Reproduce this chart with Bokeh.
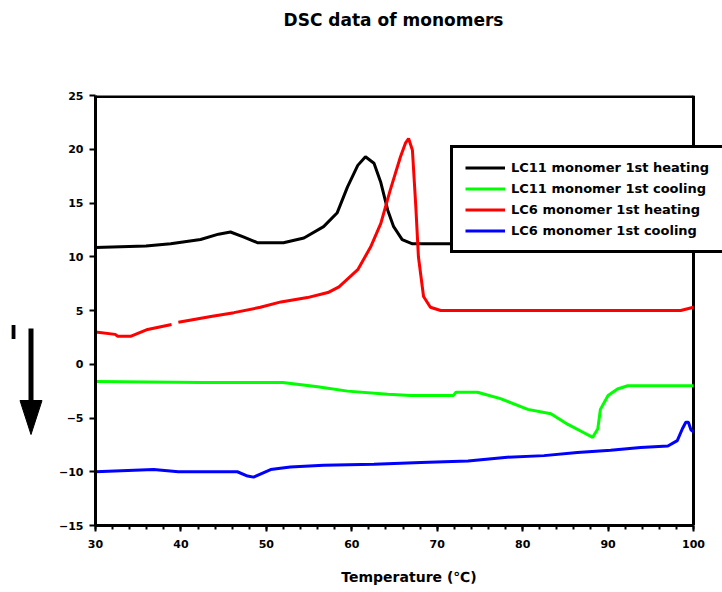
import math
from bokeh.plotting import figure
from bokeh.layouts import row, column
from bokeh.models import (Range1d, SingleIntervalTicker, Legend, LegendItem)
from bokeh.core.properties import value
from bokeh.embed import file_html
from bokeh.resources import INLINE

nan = float("nan")

title_text = "DSC data of monomers"
x_label = "Temperature (\u2103)"
side_mark = "I"
series_names = ["LC11 monomer 1st heating", "LC11 monomer 1st cooling",
                "LC6 monomer 1st heating", "LC6 monomer 1st cooling"]
series_colors = ["#000000", "#00FF00", "#FF0000", "#0000FF"]

lc11_heat_x = [30, 35.9, 38.8, 42.3, 44.4, 45.8, 47.3, 49.0, 52.0, 54.4, 56.7, 58.3, 59.5,
               60.7, 61.6, 62.6, 63.4, 64.2, 64.9, 65.9, 67.1, 100]
lc11_heat_y = [10.85, 11.0, 11.2, 11.6, 12.1, 12.3, 11.85, 11.3, 11.3, 11.75, 12.8, 14.1, 16.5,
               18.5, 19.3, 18.7, 16.9, 14.35, 12.8, 11.6, 11.2, 11.2]

lc11_cool_x = [30, 42.6, 51.9, 56.0, 59.5, 64.2, 66.9, 71.9, 72.2, 74.7, 77.4, 80.6, 83.3,
               85.3, 87.0, 88.2, 88.8, 89.1, 90.0, 91.1, 92.3, 100]
lc11_cool_y = [-1.6, -1.7, -1.7, -2.1, -2.5, -2.8, -2.9, -2.9, -2.6, -2.6, -3.2, -4.2, -4.6,
               -5.6, -6.3, -6.8, -6.0, -4.2, -2.9, -2.3, -2.0, -2.0]

lc6_heat_x = [30, 32.3, 32.6, 34.1, 36.1, 38.9, nan, 39.7, 43.5, 46.2, 49.3, 51.7, 54.8, 57.2,
              58.5, 60.7, 62.2, 63.4, 64.5, 65.7, 66.3, 66.65, 67.1, 67.5, 67.8, 68.4, 69.2,
              70.4, 98.5, 100]
lc6_heat_y = [3.0, 2.78, 2.6, 2.6, 3.24, 3.7, nan, 3.9, 4.44, 4.8, 5.3, 5.8, 6.2, 6.67,
              7.2, 8.8, 10.9, 13.1, 16.2, 19.3, 20.6, 21.0, 19.9, 14.6, 10.0, 6.3, 5.3,
              5.0, 5.0, 5.3]

lc6_cool_x = [30, 36.8, 39.7, 46.6, 47.8, 48.5, 50.5, 52.8, 56.7, 62.6, 68.1, 73.6, 78.2,
              82.5, 86.4, 90.3, 93.8, 97.0, 98.1, 98.7, 99.1, 99.4, 99.7, 100]
lc6_cool_y = [-10.0, -9.8, -10.0, -10.0, -10.4, -10.5, -9.8, -9.55, -9.4, -9.3, -9.15, -9.0,
              -8.65, -8.5, -8.2, -8.0, -7.75, -7.6, -7.1, -6.0, -5.4, -5.4, -6.1, -6.3]

xs = [lc11_heat_x, lc11_cool_x, lc6_heat_x, lc6_cool_x]
ys = [lc11_heat_y, lc11_cool_y, lc6_heat_y, lc6_cool_y]

x_min, x_max, y_min, y_max = 30, 100, -15, 25

FONT = "DejaVu Sans"

W, H = 722, 592
SIDE_W = 55      # strip at the left holding the arrow mark
HEAD_H = 40      # strip at the top holding the title
MAIN_W = W - SIDE_W
MAIN_H = H - HEAD_H
FRAME_LEFT = 95  # frame left edge in the page


def blank(width, height, xr, yr):
    f = figure(width=width, height=height, output_backend="svg", toolbar_location=None,
               x_range=xr, y_range=yr, min_border=0,
               x_axis_location=None, y_axis_location=None)
    f.grid.visible = False
    f.outline_line_color = None
    f.title.visible = False
    return f


# --- title strip: its frame is aligned with the main frame by the column,
#     so its x range is expressed in page pixels from FRAME_LEFT to W ---
head = blank(MAIN_W, HEAD_H, Range1d(FRAME_LEFT, W), Range1d(0, HEAD_H))
head.text(x=[393], y=[HEAD_H - 19.5], text=[title_text], text_font=value(FONT),
          text_font_style="bold", text_font_size="17px", text_align="center",
          text_baseline="middle", text_color="black")

# --- left strip (pixel coordinates, y down) ---
side = blank(SIDE_W, H, Range1d(0, SIDE_W), Range1d(H, 0))
side.text(x=[13], y=[331], text=[side_mark], text_font=value(FONT), text_font_style="bold",
          text_font_size="20px", text_align="center", text_baseline="middle",
          text_color="black")
side.segment(x0=[30.5], y0=[328], x1=[30.5], y1=[404], line_color="black", line_width=5)
side.patch(x=[19.5, 41.5, 30.5], y=[400, 400, 434], fill_color="black", line_color="black",
           line_width=1)

# --- main plot: frame runs to the right edge so the legend overhangs the plot box ---
px_per_unit = 598 / (x_max - x_min)
x_view_max = x_min + (W - FRAME_LEFT) / px_per_unit

p = figure(width=MAIN_W, height=MAIN_H, output_backend="svg", toolbar_location=None,
           x_range=Range1d(x_min, x_view_max), y_range=Range1d(y_min, y_max),
           min_border_left=FRAME_LEFT - SIDE_W, min_border_right=0,
           min_border_top=95 - HEAD_H, min_border_bottom=67)
p.title.visible = False
p.xgrid.visible = False
p.ygrid.visible = False
p.outline_line_color = None
p.background_fill_color = "white"
p.border_fill_color = "white"

p.xaxis.ticker = SingleIntervalTicker(interval=10, num_minor_ticks=5)
p.yaxis.ticker = SingleIntervalTicker(interval=5, num_minor_ticks=0)
p.xaxis.bounds = (x_min, x_max)
for ax in (p.xaxis[0], p.yaxis[0]):
    ax.axis_line_width = 3
    ax.axis_line_color = "black"
    ax.major_tick_line_width = 2
    ax.minor_tick_line_width = 2
    ax.major_tick_in = 0
    ax.major_tick_out = 6
    ax.minor_tick_in = 0
    ax.major_label_text_font = FONT
    ax.major_label_text_font_style = "bold"
    ax.major_label_text_font_size = "11px"
    ax.major_label_text_color = "black"
p.xaxis.minor_tick_out = 4
p.yaxis.minor_tick_out = 0
p.xaxis.major_label_standoff = 8
p.yaxis.major_label_standoff = 6
p.xaxis.axis_label = x_label
p.xaxis.axis_label_text_font = FONT
p.xaxis.axis_label_text_font_style = "bold"
p.xaxis.axis_label_text_font_size = "14px"
p.xaxis.axis_label_text_color = "black"
p.xaxis.axis_label_standoff = 18

# top and right sides of the plot box
p.segment(x0=[x_min, x_max], y0=[y_max, y_min], x1=[x_max, x_max], y1=[y_max, y_max],
          line_color="black", line_width=[5, 3])

items = []
for x, y, name, c in zip(xs, ys, series_names, series_colors):
    r = p.line(x, y, line_color=c, line_width=3)
    items.append(LegendItem(label=name, renderers=[r]))

legend = Legend(items=items, location=(355, 272), border_line_color="black",
                border_line_width=3, border_line_alpha=1,
                background_fill_color="white", background_fill_alpha=1,
                padding=12, margin=0, spacing=6, glyph_width=40, glyph_height=15,
                label_height=15, label_width=215, label_standoff=6, label_text_font=FONT,
                label_text_font_style="bold", label_text_font_size="13px",
                label_text_color="black")
p.add_layout(legend, "center")

layout = row(side, column(head, p, spacing=0), spacing=0)

open("out.html", "w").write(file_html(layout, INLINE))
